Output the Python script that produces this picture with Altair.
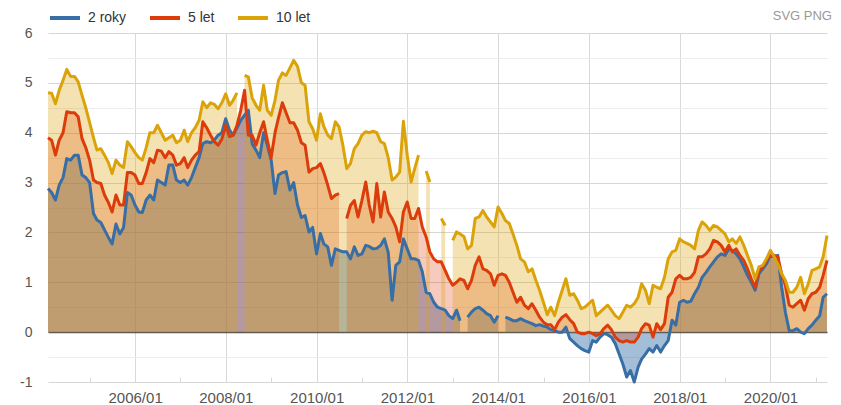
import altair as alt
import pandas as pd

series_names = ["2 roky", "5 let", "10 let"]
line_colors = ["#376ea6", "#dc3c0a", "#daa30a"]
fill_opacity = [0.45, 0.27, 0.31]
export_links = ["SVG PNG"]

# monthly yields, 2004/01 .. 2021/03 (None = missing month)
y2 = [
    2.88, 2.80, 2.65, 2.95, 3.10, 3.48, 3.45, 3.55, 3.55, 3.15, 3.10, 3.00,
    2.38, 2.25, 2.20, 2.05, 1.90, 1.77, 2.17, 1.97, 2.10, 2.80, 2.75, 2.55,
    2.41, 2.40, 2.65, 2.75, 2.65, 3.05, 3.00, 2.95, 3.35, 3.35, 3.05, 3.00,
    3.05, 2.95, 3.10, 3.30, 3.50, 3.78, 3.82, 3.80, 3.85, 3.95, 4.00, 4.28,
    4.05, 3.95, 4.10, 4.25, 4.35, 4.45, 3.78, 3.65, 3.50, 4.00, 3.75, 3.45,
    2.78, 3.15, 3.20, 3.22, 2.85, 3.00, 2.55, 2.30, 2.34, 2.01, 2.10, 1.57,
    1.98, 1.77, 1.71, 1.34, 1.67, 1.64, 1.61, 1.61, 1.47, 1.71, 1.54, 1.57,
    1.74, 1.72, 1.67, 1.68, 1.74, 1.87, 1.60, 0.64, 1.34, 1.41, 1.87, 1.67,
    1.47, 1.47, 1.44, 1.21, 0.80, 0.77, 0.60, 0.50, 0.47, 0.44, 0.33, 0.27,
    0.44, 0.23, None, 0.30, 0.40, 0.47, 0.50, 0.44, 0.37, 0.33, 0.20, 0.33,
    None, 0.30, 0.27, 0.23, 0.23, 0.27, 0.23, 0.20, 0.17, 0.13, 0.15, 0.12,
    0.10, 0.05, 0.03, 0.00, 0.00, 0.10, -0.13, -0.20, -0.27, -0.33, -0.37, -0.40,
    -0.17, -0.20, -0.10, -0.03, -0.05, -0.10, -0.23, -0.44, -0.64, -0.90, -0.77, -1.00,
    -0.70, -0.54, -0.44, -0.33, -0.40, -0.27, -0.40, -0.27, -0.17, 0.24, 0.14, 0.60,
    0.64, 0.60, 0.62, 0.77, 0.90, 1.10, 1.20, 1.31, 1.41, 1.51, 1.57, 1.54,
    1.67, 1.64, 1.57, 1.47, 1.31, 1.14, 1.00, 0.84, 1.17, 1.27, 1.37, 1.54,
    1.51, 1.54, 0.90, 0.40, 0.03, 0.03, 0.07, 0.00, -0.03, 0.07, 0.14, 0.24,
    0.33, 0.70, 0.77,
]
y5 = [
    3.90, 3.85, 3.55, 3.85, 4.00, 4.42, 4.40, 4.40, 4.32, 3.88, 3.70, 3.45,
    3.05, 3.00, 2.98, 2.75, 2.60, 2.41, 2.75, 2.55, 2.55, 3.20, 3.20, 3.15,
    2.98, 2.98, 3.20, 3.48, 3.40, 3.65, 3.63, 3.50, 3.62, 3.55, 3.35, 3.38,
    3.50, 3.30, 3.45, 3.55, 3.62, 4.22, 4.10, 3.95, 3.82, 3.75, 3.87, 4.15,
    3.92, 3.95, 4.15, 4.45, 4.85, 3.95, 3.95, 3.75, 4.00, 4.22, 3.85, 3.50,
    4.00, 4.30, 4.60, 4.40, 4.20, 4.20, 4.05, 3.80, 3.75, 3.21, 3.28, 3.30,
    3.38, 3.20, 2.95, 2.68, 2.75, 2.78, None, 2.28, 2.54, 2.64, 2.31, 2.64,
    3.01, 2.55, 2.21, 2.98, 2.31, 2.81, 2.41, 2.28, 2.11, 1.81, 2.41, 2.61,
    2.28, 2.28, 2.48, 2.11, 1.91, 1.61, 1.47, 1.41, 1.41, 1.24, 1.07, 0.94,
    1.00, 1.07, 1.04, 0.87, 1.04, 1.34, 1.51, 1.27, 1.24, 1.17, 0.94, 1.14,
    1.17, 1.14, 1.00, 0.80, 0.60, 0.70, 0.54, 0.47, 0.57, 0.44, 0.30, 0.20,
    0.15, 0.15, 0.05, 0.20, 0.30, 0.35, 0.25, 0.17, 0.00, -0.03, -0.03, 0.00,
    -0.03, -0.07, -0.03, 0.07, 0.14, 0.05, -0.10, -0.17, -0.20, -0.17, -0.20, -0.20,
    -0.10, 0.07, 0.17, 0.14, -0.10, 0.17, 0.05, 0.17, 0.70, 0.80, 1.07, 1.14,
    1.07, 1.07, 1.10, 1.20, 1.51, 1.51, 1.57, 1.67, 1.84, 1.81, 1.74, 1.61,
    1.74, 1.61, 1.67, 1.54, 1.44, 1.27, 1.07, 0.90, 1.24, 1.31, 1.44, 1.54,
    1.54, 1.51, 1.17, 0.94, 0.54, 0.50, 0.57, 0.64, 0.44, 0.67, 0.77, 0.80,
    0.90, 1.14, 1.44,
]
y10 = [
    4.80, 4.79, 4.58, 4.85, 5.05, 5.27, 5.13, 5.13, 5.02, 4.75, 4.50, 4.20,
    3.90, 3.65, 3.68, 3.55, 3.40, 3.18, 3.45, 3.35, 3.30, 3.82, 3.72, 3.60,
    3.50, 3.45, 3.70, 4.00, 4.00, 4.15, 4.00, 3.85, 3.90, 3.95, 3.80, 3.85,
    4.05, 3.82, 4.00, 4.10, 4.25, 4.62, 4.50, 4.60, 4.57, 4.48, 4.60, 4.78,
    4.55, 4.65, 4.80, None, 5.15, 5.12, 4.70, 4.55, 4.45, 4.95, 4.45, 4.35,
    4.65, 5.05, 5.20, 5.15, 5.30, 5.45, 5.33, 5.00, 4.95, 4.22, 4.08, 3.85,
    4.38, 4.12, 3.95, 3.88, 4.22, 4.12, 3.75, 3.28, 3.38, 3.68, 3.78, 3.95,
    4.02, 4.00, 4.03, 4.00, 3.82, 3.78, 3.50, 3.05, 3.11, 3.21, 4.23, 3.55,
    3.01, 3.28, 3.55, None, 3.23, 3.01, None, None, 2.28, 2.14, None, 1.84,
    2.01, 1.97, 1.92, 1.67, 1.74, 2.28, 2.31, 2.44, 2.31, 2.21, 2.11, 2.51,
    2.38, 2.24, 2.18, 1.97, 1.74, 1.47, 1.41, 1.21, 1.27, 1.04, 0.84, 0.60,
    0.35, 0.50, 0.33, 0.60, 0.84, 1.07, 0.74, 0.77, 0.64, 0.47, 0.50, 0.57,
    0.64, 0.33, 0.40, 0.47, 0.54, 0.44, 0.33, 0.27, 0.40, 0.54, 0.50, 0.57,
    0.70, 0.97, 0.84, 0.57, 0.94, 0.90, 0.87, 1.10, 1.47, 1.61, 1.64, 1.87,
    1.81, 1.78, 1.74, 1.67, 2.04, 2.21, 2.14, 2.04, 2.14, 2.11, 2.04, 1.97,
    1.81, 1.87, 1.78, 1.91, 1.74, 1.54, 1.34, 1.07, 1.31, 1.34, 1.47, 1.64,
    1.51, 1.37, 1.17, 1.04, 0.80, 0.80, 0.90, 1.10, 0.77, 0.97, 1.24, 1.27,
    1.31, 1.51, 1.94,
]

n = len(y2)
dates = pd.date_range("2004-02-01", periods=n, freq="MS") - pd.Timedelta(days=1)

frames = []
for name, vals in zip(series_names, [y2, y5, y10]):
    frames.append(pd.DataFrame({"date": dates, "series": name, "value": vals}))
df = pd.concat(frames, ignore_index=True)

FONT = "Liberation Sans"
INVALID = "break-paths-show-domains"

year_ticks = [alt.DateTime(year=y, month=1, date=1) for y in range(2005, 2022)]
x_enc = alt.X(
    "date:T",
    scale=alt.Scale(nice=False),
    axis=alt.Axis(
        values=year_ticks,
        labelExpr="year(datum.value) % 2 == 0 ? timeFormat(datum.value, '%Y/%m') : ''",
        title=None,
        grid=True,
        gridColor="#d9d9d9",
        gridDash={"condition": {"test": "year(datum.value) % 2 == 1", "value": [0, 344, 5, 1000]}, "value": []},
        ticks=False,
        domain=False,
        labelPadding=8,
        labelFontSize=15,
        labelColor="#555",
        labelFont=FONT,
        labelFlush=False,
    ),
)
y_vals = [v / 2 for v in range(-2, 13)]
y_enc = alt.Y(
    "value:Q",
    stack=None,
    scale=alt.Scale(domain=[-1, 6], nice=False, zero=False),
    axis=alt.Axis(
        values=y_vals,
        labelExpr="datum.value % 1 == 0 ? '' + datum.value : ''",
        title=None,
        grid=True,
        gridColor={"condition": [{"test": "datum.value == 0", "value": "#555555"},
                                 {"test": "datum.value % 1 == 0", "value": "#d6d6d6"}],
                   "value": "#ececec"},
        gridWidth={"condition": {"test": "datum.value == 0", "value": 1.5}, "value": 1},
        ticks=False,
        domain=False,
        labelPadding=16,
        labelFontSize=14,
        labelColor="#555",
        labelFont=FONT,
    ),
)

color_scale = alt.Scale(domain=series_names, range=line_colors)

base = alt.Chart(df)
layers = []
for name, col, op in zip(series_names, line_colors, fill_opacity):
    layers.append(
        base.transform_filter(alt.datum.series == name)
        .mark_area(color=col, fillOpacity=op, invalid=INVALID)
        .encode(x=x_enc, y=y_enc, y2=alt.datum(0))
    )
for name in series_names:
    layers.append(
        base.transform_filter(alt.datum.series == name)
        .mark_line(strokeWidth=3, invalid=INVALID, strokeJoin="round")
        .encode(
            x=x_enc,
            y=y_enc,
            color=alt.Color(
                "series:N",
                scale=color_scale,
                legend=alt.Legend(
                    title=None,
                    orient="none",
                    legendX=0,
                    legendY=-32,
                    direction="horizontal",
                    symbolType="stroke",
                    symbolSize=900,
                    symbolStrokeWidth=4,
                    labelFontSize=14,
                    labelColor="#333",
                    labelFont=FONT,
                    labelOffset=6,
                    columnPadding=15,
                    gridAlign="each",
                    padding=0,
                ),
            ),
        )
    )

links = (
    alt.Chart(pd.DataFrame({"label": export_links}))
    .mark_text(align="right", baseline="middle", fontSize=13, color="#999999", font=FONT)
    .encode(text="label:N", x=alt.value(784), y=alt.value(-17))
)
layers.append(links)

chart = alt.layer(*layers).properties(
    width=779,
    height=349,
    autosize="none",
    padding={"left": 40, "top": 25, "right": 6, "bottom": 22},
).configure_view(stroke=None)

chart.save("out.html", embed_options={"renderer": "svg", "actions": False})
